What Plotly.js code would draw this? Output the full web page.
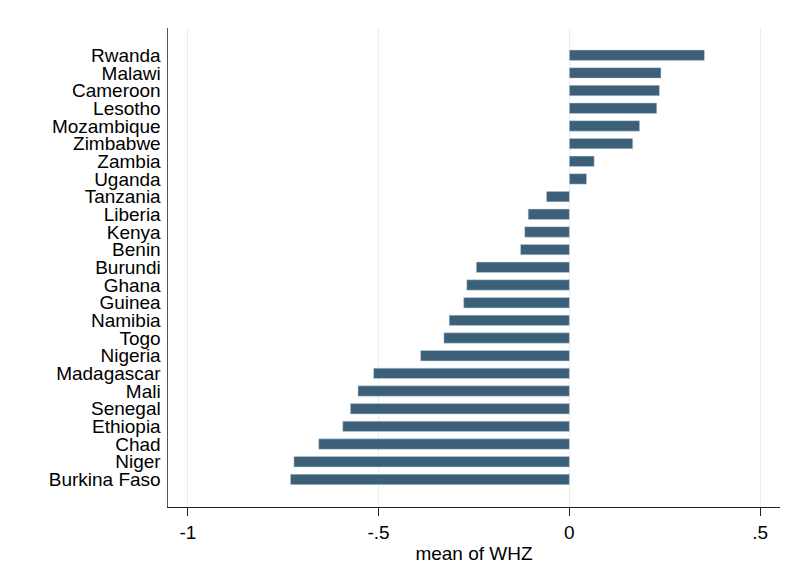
<!DOCTYPE html>
<html>
<head>
<meta charset="utf-8">
<script src="https://cdn.plot.ly/plotly-3.0.1.min.js"></script>
<style>html,body{margin:0;padding:0;background:#fff;}#chart{width:790px;height:568px;}</style>
</head>
<body>
<div id="chart"></div>
<script>
const countries = ["Rwanda","Malawi","Cameroon","Lesotho","Mozambique","Zimbabwe","Zambia","Uganda","Tanzania","Liberia","Kenya","Benin","Burundi","Ghana","Guinea","Namibia","Togo","Nigeria","Madagascar","Mali","Senegal","Ethiopia","Chad","Niger","Burkina Faso"];
const meanWHZ = [0.354,0.240,0.236,0.229,0.184,0.166,0.065,0.045,-0.060,-0.108,-0.117,-0.128,-0.244,-0.269,-0.277,-0.315,-0.329,-0.390,-0.513,-0.554,-0.574,-0.594,-0.657,-0.722,-0.731];
const xTickVals = [-1,-0.5,0,0.5];
const xTickText = ["-1","-.5","0",".5"];

const font = "Arial, 'Liberation Sans', sans-serif";
const trace = {
  type: "bar",
  orientation: "h",
  x: meanWHZ,
  y: countries,
  marker: {color: "rgb(61,96,122)", line: {color: "rgba(200,215,225,0.8)", width: 0.6}},
  width: 0.59,
  hoverinfo: "x+y"
};
const layout = {
  width: 790, height: 568,
  paper_bgcolor: "#fff", plot_bgcolor: "#fff",
  margin: {l: 168, r: 10, t: 28, b: 61},
  showlegend: false,
  font: {family: font, size: 19, color: "#000"},
  xaxis: {
    range: [-1.052, 0.552],
    tickvals: xTickVals, ticktext: xTickText,
    showgrid: true, gridcolor: "#e6eef2", gridwidth: 1.2,
    zeroline: false,
    showline: true, linecolor: "#222", linewidth: 1.3,
    ticks: "outside", ticklen: 8, tickcolor: "#222", tickwidth: 1.3,
    tickfont: {family: font, size: 19, color: "#000"},
    title: {text: "mean of WHZ", font: {family: font, size: 19, color: "#000"}, standoff: 4}
  },
  yaxis: {
    type: "category",
    range: [25.56, -1.54],
    tickmode: "array", tickvals: countries, ticktext: countries,
    showgrid: false, zeroline: false,
    showline: true, linecolor: "#555", linewidth: 1.5,
    ticks: "", ticklabelstandoff: 2,
    tickfont: {family: font, size: 19, color: "#000"}
  }
};
Plotly.newPlot("chart", [trace], layout, {displayModeBar: false, staticPlot: true});
</script>
</body>
</html>
